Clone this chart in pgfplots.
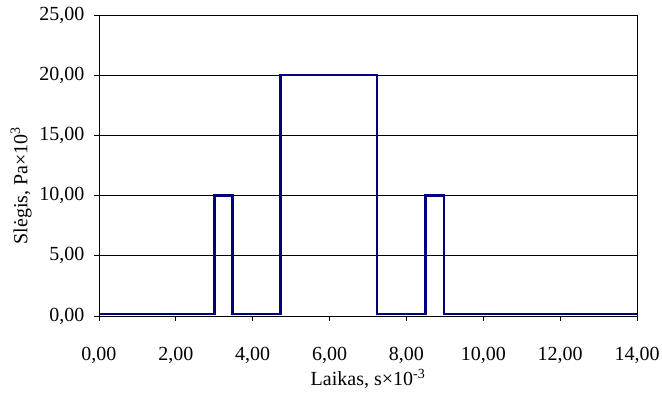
\documentclass[border=0pt]{standalone}
\usepackage{fontspec}
\setmainfont{Liberation Serif}
\usepackage{pgfplots}
\pgfplotsset{compat=1.18}
\begin{document}
\begin{tikzpicture}
\begin{axis}[
  scale only axis,
  width=538pt, height=301pt,
  xmin=0, xmax=14, ymin=0, ymax=25,
  xtick={0,2,...,14}, ytick={0,5,...,25},
  tick align=outside, major tick length=5pt,
  xtick pos=bottom, ytick pos=left,
  ymajorgrids, grid style={black, line width=0.8pt},
  axis line style={black, line width=0.8pt},
  tick style={black, line width=0.8pt},
  /pgf/number format/.cd, fixed, fixed zerofill, precision=2, use comma, assume math mode=true,
  /pgfplots/.cd,
  ticklabel style={font=\fontsize{20}{24}\selectfont},
  label style={font=\fontsize{20}{24}\selectfont},
  xticklabel style={yshift=-23pt},
  yticklabel style={xshift=-6pt},
  xlabel={Laikas, s×10\textsuperscript{-3}},
  ylabel={Slėgis, Pa×10\textsuperscript{3}},
  xlabel style={yshift=2pt},
  ylabel style={yshift=1pt, xshift=-20pt},
]
\addplot[color={rgb,255:red,0;green,0;blue,128}, line width=2.6pt, line join=miter] coordinates {
(0,0.15) (3,0.15) (3,10) (3.48,10) (3.48,0.15) (4.72,0.15) (4.72,20) (7.23,20) (7.23,0.15)
(8.5,0.15) (8.5,10) (8.98,10) (8.98,0.15) (14,0.15)};
\end{axis}
\pgfresetboundingbox
\path[use as bounding box] ([shift={(-99pt,-77pt)}]current axis.south west) rectangle ++(662pt,393pt);
\end{tikzpicture}
\end{document}
